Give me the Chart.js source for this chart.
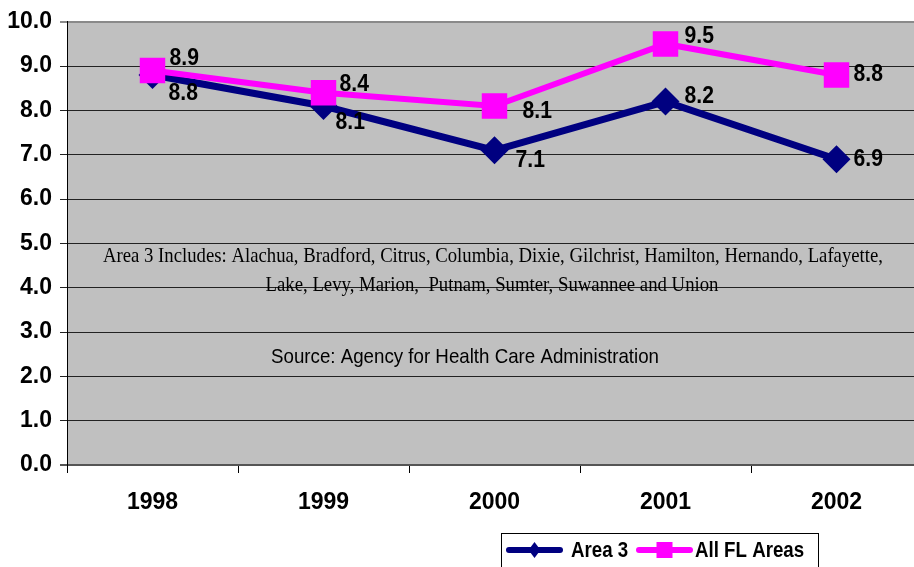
<!DOCTYPE html>
<html>
<head>
<meta charset="utf-8">
<script src="https://cdn.jsdelivr.net/npm/chart.js@4"></script>
<style>
  html,body{margin:0;padding:0;background:#fff;overflow:hidden;}
  #c{display:block;}
</style>
</head>
<body>
<canvas id="c" width="940" height="567"></canvas>
<script>
// data
const years = ['1998','1999','2000','2001','2002'];
const area3 = [8.8, 8.1, 7.1, 8.2, 6.9];
const allFL = [8.9, 8.4, 8.1, 9.5, 8.8];
const yMin = 0, yMax = 10, yStep = 1;

const noteLines = [
  'Area 3 Includes: Alachua, Bradford, Citrus, Columbia, Dixie, Gilchrist, Hamilton, Hernando, Lafayette,',
  'Lake, Levy, Marion,  Putnam, Sumter, Suwannee and Union'
];
const sourceText = 'Source: Agency for Health Care Administration';

// where each value label sits relative to its point (dx to left edge, dy to middle)
const labelOffsets = [
  [[16,19],[12,17],[21,10],[19,-5],[17,0]],   // Area 3
  [[17,-12],[16,-8],[28,6],[19,-7],[17,0]]    // All FL
];

const NAVY = '#000080', PINK = '#FF00FF';
const SANS = '"Liberation Sans", Arial, sans-serif';
const SERIF = '"Liberation Serif", "Times New Roman", serif';

// text squeezed horizontally (the original fonts look narrow)
function squeezeText(ctx, txt, x, y, font, sx, align){
  ctx.save();
  ctx.font = font;
  ctx.textBaseline = 'middle';
  ctx.textAlign = align || 'left';
  ctx.translate(x, y);
  ctx.scale(sx, 1);
  ctx.fillText(txt, 0, 0);
  ctx.restore();
}
function fitText(ctx, txt, cx, y, font, width){
  ctx.save();
  ctx.font = font;
  const w = ctx.measureText(txt).width;
  ctx.restore();
  squeezeText(ctx, txt, cx, y, font, width / w, 'center');
}

const chartDecor = {
  id:'chartDecor',
  beforeDraw(chart){
    const {ctx, chartArea:a} = chart;
    ctx.save();
    ctx.fillStyle = '#C0C0C0';
    ctx.fillRect(a.left, a.top, a.right - a.left, a.bottom - a.top);
    ctx.restore();
  },
  beforeDatasetsDraw(chart){
    const ctx = chart.ctx;
    ctx.save();
    ctx.fillStyle = '#000';
    fitText(ctx, noteLines[0], 493, 256, '21px ' + SERIF, 780);
    fitText(ctx, noteLines[1], 492, 285, '21px ' + SERIF, 453);
    fitText(ctx, sourceText, 465, 357, '21px ' + SANS, 388);
    ctx.restore();
  },
  afterDatasetsDraw(chart){
    const ctx = chart.ctx;
    ctx.save();
    ctx.fillStyle = '#000';
    chart.data.datasets.forEach((ds, i)=>{
      chart.getDatasetMeta(i).data.forEach((pt, j)=>{
        const [dx, dy] = labelOffsets[i][j];
        squeezeText(ctx, ds.data[j].toFixed(1), pt.x + dx, pt.y + dy, 'bold 23px ' + SANS, 0.92);
      });
    });
    ctx.restore();
  },
  afterDraw(chart){
    // legend box at the bottom
    const ctx = chart.ctx;
    ctx.save();
    ctx.strokeStyle = '#000';
    ctx.lineWidth = 1;
    ctx.strokeRect(501.5, 533.5, 317, 45);
    const items = [
      {ds:chart.data.datasets[0], x0:506, x1:563, tx:571},
      {ds:chart.data.datasets[1], x0:636, x1:693, tx:695}
    ];
    const y = 550;
    items.forEach(it=>{
      const c = it.ds.borderColor, mx = (it.x0 + it.x1) / 2;
      ctx.strokeStyle = c; ctx.fillStyle = c;
      ctx.lineWidth = 6; ctx.lineCap = 'round';
      ctx.beginPath(); ctx.moveTo(it.x0 + 3, y); ctx.lineTo(it.x1 - 3, y); ctx.stroke();
      ctx.beginPath();
      if (it.ds.pointStyle === 'rect') {
        ctx.rect(mx - 8, y - 8, 16, 16);
      } else {
        ctx.moveTo(mx, y - 8); ctx.lineTo(mx + 6, y); ctx.lineTo(mx, y + 8); ctx.lineTo(mx - 6, y); ctx.closePath();
      }
      ctx.fill();
      ctx.fillStyle = '#000';
      squeezeText(ctx, it.ds.label, it.tx, y + 1, 'bold 22px ' + SANS, 0.85);
    });
    ctx.restore();
  }
};

new Chart(document.getElementById('c'), {
  type:'line',
  data:{
    labels: years,
    datasets:[
      {label:'Area 3', data: area3, borderColor: NAVY, backgroundColor: NAVY,
       borderWidth: 7, pointStyle:'rectRot', pointRadius: 14, pointHoverRadius: 14,
       pointBorderWidth: 0, tension: 0, order: 2},
      {label:'All FL Areas', data: allFL, borderColor: PINK, backgroundColor: PINK,
       borderWidth: 6, pointStyle:'rect', pointRadius: 18, pointHoverRadius: 18,
       pointBorderWidth: 0, tension: 0, order: 1}
    ]
  },
  options:{
    responsive:false,
    animation:false,
    layout:{padding:{top:20, right:18, left:0, bottom:0}},
    plugins:{legend:{display:false}, tooltip:{enabled:false}},
    scales:{
      x:{
        offset:true,
        grid:{offset:true, drawOnChartArea:false, drawTicks:true, tickLength:8, color:'#000'},
        border:{color:'#555', width:2},
        ticks:{color:'#000', font:{family:SANS, size:23, weight:'bold'}, padding:16, maxRotation:0},
        afterFit(s){ s.height = 102; }
      },
      y:{
        min:yMin, max:yMax,
        grid:{
          color:(c)=> c.tick && c.tick.value === yMax ? '#8a8a8a' : (c.tick && c.tick.value === yMin ? '#555' : '#222'),
          lineWidth:(c)=> c.tick && (c.tick.value === yMin || c.tick.value === yMax) ? 2 : 1,
          tickLength:7, drawTicks:true
        },
        border:{color:'#000', width:1},
        ticks:{stepSize:yStep, color:'#000', padding:8,
               font:{family:SANS, size:23, weight:'bold'},
               callback:(v)=> Number(v).toFixed(1)},
        afterFit(s){ s.width = 67; }
      }
    }
  },
  plugins:[chartDecor]
});
</script>
</body>
</html>
